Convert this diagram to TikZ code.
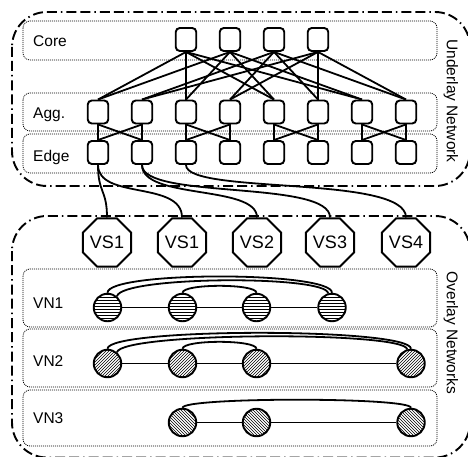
\documentclass[tikz,border=0pt]{standalone}
\usepackage{fontspec}
\setmainfont{Liberation Sans}
\usetikzlibrary{shapes.geometric,patterns}
\begin{document}
\begin{tikzpicture}[x=1pt,y=-1pt,
  sw/.style={draw,line width=1.9pt,rounded corners=4pt,minimum width=20.5pt,minimum height=23pt,inner sep=0pt,fill=white},
  vs/.style={draw,line width=1.9pt,regular polygon,regular polygon sides=8,minimum size=41.5pt,inner sep=0pt,fill=white,font=\fontsize{18}{20}\selectfont},
  vn/.style={circle,draw,line width=1.9pt,minimum size=27.5pt,inner sep=0pt},
  lbl/.style={anchor=base west,font=\fontsize{15.5}{18}\selectfont,inner sep=0pt},
  side/.style={font=\fontsize{15.5}{18}\selectfont,rotate=-90,inner sep=0pt},
  tier/.style={draw,line width=0.8pt,dash pattern=on 1pt off 1pt,rounded corners=7pt},
  outer/.style={draw,line width=1.9pt,dash pattern=on 10pt off 4pt on 10pt off 4pt on 1.5pt off 4pt,rounded corners=35pt},
  link/.style={line width=1.8pt},
]
\useasboundingbox (0,0) rectangle (468,457);
\begin{scope}
\clip (0,0) rectangle (468,457);
\draw[outer] (12,12) rectangle (470,186);
\draw[outer] (12,216) rectangle (470,457.5);
\end{scope}

% tier boxes
\draw[tier] (23,21) rectangle (437,60);
\draw[tier] (23,93) rectangle (437,131);
\draw[tier] (23,134) rectangle (437,173);
\draw[tier] (23,269) rectangle (437,327);
\draw[tier] (23,329) rectangle (437,387);
\draw[tier] (23,390) rectangle (437,446);

% labels
\node[lbl] (lcore) at (33,47) {Core};
\node[lbl] (lagg) at (33,119) {Agg.};
\node[lbl] (ledge) at (33,161) {Edge};
\node[lbl] (lvn1) at (33,308) {VN1};
\node[lbl] (lvn2) at (33,366.5) {VN2};
\node[lbl] (lvn3) at (33,423) {VN3};
\node[side] (ulab) at (451,101) {Underlay Network};
\node[side] (olab) at (451,333) {Overlay Networks};

% switches
\foreach \i/\x in {1/186,2/230,3/274,4/318}
  \node[sw] (c\i) at (\x,39.5) {};
\foreach \i in {1,...,8} {
  \node[sw] (a\i) at ({54+44*\i},112) {};
  \node[sw] (e\i) at ({54+44*\i},152.5) {};
}

% core - agg
\foreach \c in {1,2}
  \foreach \a in {1,3,5,7}
    \draw[link] (c\c.south) -- (a\a.north);
\foreach \c in {3,4}
  \foreach \a in {2,4,6,8}
    \draw[link] (c\c.south) -- (a\a.north);

% agg - edge
\foreach \p/\q in {1/2,3/4,5/6,7/8} {
  \draw[link] (a\p.south) -- (e\p.north);
  \draw[link] (a\q.south) -- (e\q.north);
  \draw[link] (a\p.south) -- (e\q.north);
  \draw[link] (a\q.south) -- (e\p.north);
}

% virtual switches
\node[vs] (vs1) at (107,242.5) {VS1};
\node[vs] (vs2) at (182,242.5) {VS1};
\node[vs] (vs3) at (257,242.5) {VS2};
\node[vs] (vs4) at (330,242.5) {VS3};
\node[vs] (vs5) at (406,242.5) {VS4};

% edge - virtual switch
\draw[link] (e1.south) .. controls +(0,28) and +(0,-28) .. (vs1.north);
\draw[link] (e1.south) .. controls +(0,35) and +(0,-37) .. (vs2.north);
\draw[link] (e2.south) .. controls +(0,35) and +(0,-33) .. (vs3.north);
\draw[link] (e2.south) .. controls +(0,35) and +(0,-38) .. (vs4.north);
\draw[link] (e3.south) .. controls +(0,30) and +(0,-43) .. (vs5.north);

% VN1
\node[vn,pattern=horizontal lines] (v11) at (107.5,307.5) {};
\node[vn,pattern=horizontal lines] (v12) at (182.5,307.5) {};
\node[vn,pattern=horizontal lines] (v13) at (256.5,307.5) {};
\node[vn,pattern=horizontal lines] (v14) at (332,307.5) {};
\draw[link] (v11) -- (v12);
\draw[link] (v12) -- (v13);
\draw[link] (v13) -- (v14);
\draw[link] (v11.north) .. controls (107.5,271) and (332,271) .. (v14.north);
\draw[link] (v11.50) .. controls (122,276) and (326,275) .. (v14.105);
\draw[link] (v12.north) .. controls (182.5,283.5) and (256.5,283.5) .. (v13.north);

% VN2
\node[vn,pattern=north east lines] (v21) at (107.5,363.5) {};
\node[vn,pattern=north east lines] (v22) at (182.5,363.5) {};
\node[vn,pattern=north east lines] (v23) at (256.5,363.5) {};
\node[vn,pattern=north east lines] (v24) at (411,363.5) {};
\draw[link] (v21) -- (v22);
\draw[link] (v22) -- (v23);
\draw[link] (v23) -- (v24);
\draw[link] (v21.north) .. controls (107.5,327.5) and (411,327.5) .. (v24.north);
\draw[link] (v21.50) .. controls (122,332) and (405,331) .. (v24.105);
\draw[link] (v22.north) .. controls (182.5,339.5) and (256.5,339.5) .. (v23.north);

% VN3
\node[vn,pattern=north west lines] (v31) at (182.5,422.5) {};
\node[vn,pattern=north west lines] (v32) at (256.5,422.5) {};
\node[vn,pattern=north west lines] (v33) at (411,422.5) {};
\draw[link] (v31) -- (v32);
\draw[link] (v32) -- (v33);
\draw[link] (v31.north) .. controls (182.5,397) and (411,397) .. (v33.north);
\end{tikzpicture}
\end{document}
